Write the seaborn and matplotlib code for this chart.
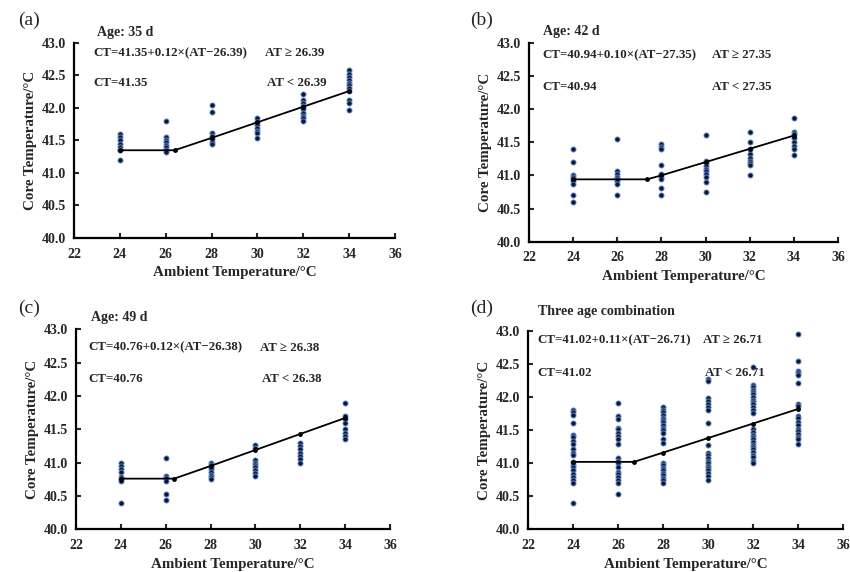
import matplotlib
matplotlib.use("Agg")
import matplotlib.pyplot as plt
import numpy as np
import pandas as pd
import seaborn as sns

# ---------------- data ----------------
temps = [24, 26, 28, 30, 32, 34]

a_ct = [
    [41.60, 41.55, 41.50, 41.45, 41.40, 41.35, 41.35, 41.20],
    [41.80, 41.55, 41.50, 41.47, 41.43, 41.40, 41.36, 41.33],
    [42.04, 41.94, 41.61, 41.57, 41.52, 41.48, 41.44],
    [41.84, 41.79, 41.74, 41.69, 41.65, 41.61, 41.54],
    [42.21, 42.13, 42.08, 42.03, 41.98, 41.93, 41.88, 41.84, 41.80],
    [42.58, 42.52, 42.47, 42.43, 42.39, 42.35, 42.31, 42.26, 42.13, 42.08, 41.97],
]
b_ct = [
    [41.40, 41.20, 41.01, 40.98, 40.95, 40.91, 40.87, 40.70, 40.60],
    [41.55, 41.06, 41.02, 40.98, 40.95, 40.91, 40.87, 40.70],
    [41.47, 41.43, 41.39, 41.16, 41.02, 40.98, 40.94, 40.81, 40.70],
    [41.61, 41.22, 41.18, 41.14, 41.10, 41.06, 41.02, 40.98, 40.90, 40.75],
    [41.66, 41.50, 41.40, 41.32, 41.26, 41.22, 41.18, 41.15, 41.00],
    [41.86, 41.66, 41.62, 41.56, 41.50, 41.45, 41.40, 41.30],
]
c_ct = [
    [41.00, 40.95, 40.90, 40.86, 40.78, 40.75, 40.72, 40.40],
    [41.07, 40.80, 40.77, 40.73, 40.53, 40.44],
    [41.00, 40.97, 40.93, 40.90, 40.86, 40.82, 40.79, 40.76],
    [41.27, 41.22, 41.04, 41.00, 40.96, 40.93, 40.89, 40.84, 40.80],
    [41.30, 41.25, 41.20, 41.15, 41.10, 41.05, 41.00],
    [41.90, 41.70, 41.65, 41.60, 41.50, 41.45, 41.40, 41.36],
]
d_ct = [
    [41.81, 41.77, 41.73, 41.61, 41.43, 41.39, 41.34, 41.29, 41.21, 41.15,
     41.13, 41.02, 40.98, 40.94, 40.89, 40.84, 40.79, 40.74, 40.70, 40.40],
    [41.91, 41.71, 41.67, 41.53, 41.51, 41.46, 41.41, 41.36, 41.29, 41.08,
     41.04, 41.00, 40.95, 40.87, 40.83, 40.79, 40.74, 40.70, 40.53],
    [41.85, 41.81, 41.77, 41.73, 41.69, 41.66, 41.62, 41.58, 41.54, 41.50,
     41.46, 41.37, 41.31, 41.00, 40.97, 40.93, 40.89, 40.85, 40.82, 40.78,
     40.74, 40.70],
    [42.28, 42.24, 41.98, 41.94, 41.90, 41.85, 41.80, 41.61, 41.27, 41.15,
     41.12, 41.08, 41.04, 41.00, 40.96, 40.93, 40.89, 40.85, 40.80, 40.75],
    [42.45, 42.19, 42.15, 42.11, 42.08, 42.04, 42.00, 41.96, 41.93, 41.89,
     41.85, 41.80, 41.76, 41.51, 41.47, 41.43, 41.39, 41.36, 41.32, 41.28,
     41.24, 41.21, 41.17, 41.13, 41.09, 41.04, 41.00],
    [42.95, 42.55, 42.40, 42.36, 42.33, 42.21, 41.90, 41.86, 41.72, 41.68,
     41.62, 41.58, 41.52, 41.48, 41.44, 41.40, 41.36, 41.29],
]

# fitted broken-line models (values read from the equations shown)
a_fit_x = [24, 26.39, 28, 30, 32, 34]
a_fit_y = [41.35, 41.35, 41.54, 41.78, 42.02, 42.26]
b_fit_x = [24, 27.35, 28, 30, 32, 34]
b_fit_y = [40.94, 40.94, 41.00, 41.20, 41.40, 41.60]
c_fit_x = [24, 26.38, 28, 30, 32, 34]
c_fit_y = [40.76, 40.76, 40.95, 41.19, 41.43, 41.67]
d_fit_x = [24, 26.71, 28, 30, 32, 34]
d_fit_y = [41.02, 41.02, 41.16, 41.38, 41.60, 41.82]

panel_letters = ["(a)", "(b)", "(c)", "(d)"]
panel_titles = ["Age: 35 d", "Age: 42 d", "Age: 49 d", "Three age combination"]
eq_upper = ["CT=41.35+0.12\u00d7(AT\u221226.39)", "CT=40.94+0.10\u00d7(AT\u221227.35)",
            "CT=40.76+0.12\u00d7(AT\u221226.38)", "CT=41.02+0.11\u00d7(AT\u221226.71)"]
cond_upper = ["AT \u2265 26.39", "AT \u2265 27.35", "AT \u2265 26.38", "AT \u2265 26.71"]
eq_lower = ["CT=41.35", "CT=40.94", "CT=40.76", "CT=41.02"]
cond_lower = ["AT < 26.39", "AT < 27.35", "AT < 26.38", "AT < 26.71"]

x_ticks = [22, 24, 26, 28, 30, 32, 34, 36]
y_ticks = [40.0, 40.5, 41.0, 41.5, 42.0, 42.5, 43.0]
x_label = "Ambient Temperature/\u00b0C"
y_label = "Core Temperature/\u00b0C"

# ---------------- style ----------------
sns.set_style("ticks")
plt.rcParams['font.family'] = ['Liberation Serif', 'DejaVu Serif']

fig = plt.figure(figsize=(8.5, 5.72), dpi=100)

# axes rectangles (figure fractions) and text anchors (axes fractions)
rects = [
    [74 / 850, (572 - 238) / 572, 321 / 850, 195 / 572],
    [529 / 850, (572 - 241.7) / 572, 309 / 850, 199 / 572],
    [76 / 850, (572 - 529.3) / 572, 314 / 850, 200 / 572],
    [528 / 850, (572 - 529.3) / 572, 315 / 850, 198.3 / 572],
]
title_pos = [(0.072, 1.056), (0.045, 1.054), (0.048, 1.057), (0.032, 1.10)]
eq_x = [0.059, 0.042, 0.041, 0.029]
eq_y = [0.949, 0.938, 0.908, 0.955]
low_y = [0.795, 0.777, 0.75, 0.79]
cond_left = [0.595, 0.592, 0.586, 0.556]
cond_right = [0.788, 0.786, 0.783, 0.752]
letter_pos = [(18 / 850, 1 - 20 / 572), (470 / 850, 1 - 20 / 572),
              (18 / 850, 1 - 308 / 572), (470 / 850, 1 - 308 / 572)]

all_ct = [a_ct, b_ct, c_ct, d_ct]
fits = [(a_fit_x, a_fit_y), (b_fit_x, b_fit_y), (c_fit_x, c_fit_y), (d_fit_x, d_fit_y)]

for i in range(4):
    ax = fig.add_axes(rects[i])
    rows = [(t, v) for t, vals in zip(temps, all_ct[i]) for v in vals]
    df = pd.DataFrame(rows, columns=["AT", "CT"])
    sns.scatterplot(data=df, x="AT", y="CT", ax=ax, s=14, color="#0b1838",
                    edgecolor="#6f9ad8", linewidth=0.6, zorder=3, legend=False)
    fx, fy = fits[i]
    fit_df = pd.DataFrame({"AT": fx, "CT": fy})
    sns.lineplot(data=fit_df, x="AT", y="CT", ax=ax, color="black", linewidth=1.3,
                 marker="o", markersize=3.5, markeredgewidth=0, zorder=4,
                 sort=False, estimator=None)

    ax.set_xlim(22, 36)
    ax.set_ylim(40, 43)
    ax.set_xticks(x_ticks)
    ax.set_yticks(y_ticks)
    ax.set_yticklabels([f"{v:.1f}" for v in y_ticks])
    ax.tick_params(direction="in", length=3.5, width=1.5, labelsize=10)
    ax.tick_params(axis="x", pad=7)
    ax.tick_params(axis="y", pad=6)
    for lab in ax.get_xticklabels() + ax.get_yticklabels():
        lab.set_fontweight("bold")
    for side in ["top", "right"]:
        ax.spines[side].set_visible(False)
    for side in ["left", "bottom"]:
        ax.spines[side].set_linewidth(1.6)
        ax.spines[side].set_color("black")
    ax.set_xlabel(x_label, fontsize=10.8, fontweight="bold", labelpad=4)
    ax.set_ylabel(y_label, fontsize=10.8, fontweight="bold", labelpad=3)

    ax.text(*title_pos[i], panel_titles[i], transform=ax.transAxes, fontsize=10,
            fontweight="bold", ha="left", va="center")
    ax.text(eq_x[i], eq_y[i], eq_upper[i], transform=ax.transAxes, fontsize=9.3,
            fontweight="bold", ha="left", va="center")
    ax.text(cond_left[i], eq_y[i], cond_upper[i], transform=ax.transAxes, fontsize=9.3,
            fontweight="bold", ha="left", va="center")
    ax.text(eq_x[i], low_y[i], eq_lower[i], transform=ax.transAxes, fontsize=9.3,
            fontweight="bold", ha="left", va="center")
    ax.text(cond_right[i], low_y[i], cond_lower[i], transform=ax.transAxes, fontsize=9.3,
            fontweight="bold", ha="right", va="center")
    fig.text(*letter_pos[i], panel_letters[i], fontsize=14, ha="left", va="center")

fig.savefig("out.png", dpi=100, facecolor="white")
